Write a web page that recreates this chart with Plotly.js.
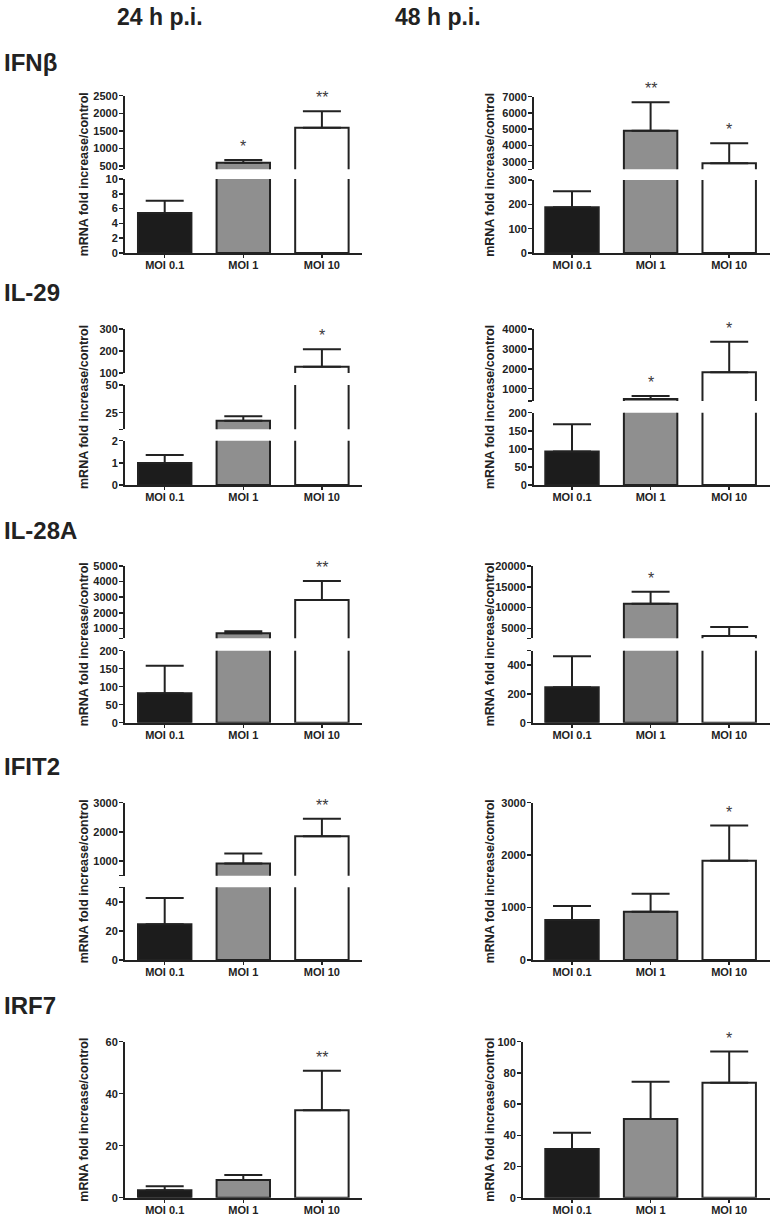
<!DOCTYPE html>
<html><head><meta charset="utf-8">
<script src="https://cdn.plot.ly/plotly-3.0.1.min.js"></script>
<style>html,body{margin:0;padding:0;background:#fff}#chart{width:773px;height:1217px}</style>
</head><body><div id="chart"></div>
<script>
// ---------------- DATA ----------------
const categories = ['MOI 0.1', 'MOI 1', 'MOI 10'];
const columnTitles = ['24 h p.i.', '48 h p.i.'];
const geneLabels = ['IFNβ', 'IL-29', 'IL-28A', 'IFIT2', 'IRF7'];
const yAxisTitle = 'mRNA fold increase/control';

// IFNβ
const ifnb24Mean = [5.4, 590, 1590];
const ifnb24Sem  = [1.65, 80, 466];
const ifnb24Sig  = ['', '*', '**'];
const ifnb24Breaks = [[406, 2500], [0, 10]];
const ifnb24Ticks  = [[500, 1000, 1500, 2000, 2500], [0, 2, 4, 6, 8, 10]];

const ifnb48Mean = [188, 4910, 2900];
const ifnb48Sem  = [66, 1750, 1230];
const ifnb48Sig  = ['', '**', '*'];
const ifnb48Breaks = [[2530, 7000], [0, 300]];
const ifnb48Ticks  = [[3000, 4000, 5000, 6000, 7000], [0, 100, 200, 300]];

// IL-29
const il29_24Mean = [0.99, 17.8, 128];
const il29_24Sem  = [0.36, 4, 80];
const il29_24Sig  = ['', '', '*'];
const il29_24Breaks = [[100, 300], [10, 50], [0, 2]];
const il29_24Ticks  = [[100, 200, 300], [25, 50], [0, 1, 2]];

const il29_48Mean = [93, 480, 1820];
const il29_48Sem  = [75, 150, 1540];
const il29_48Sig  = ['', '*', '*'];
const il29_48Breaks = [[380, 4000], [0, 200]];
const il29_48Ticks  = [[1000, 2000, 3000, 4000], [0, 50, 100, 150, 200]];

// IL-28A
const il28a24Mean = [82, 680, 2820];
const il28a24Sem  = [76, 140, 1220];
const il28a24Sig  = ['', '', '**'];
const il28a24Breaks = [[360, 5000], [0, 200]];
const il28a24Ticks  = [[1000, 2000, 3000, 4000, 5000], [0, 50, 100, 150, 200]];

const il28a48Mean = [247, 10900, 3150];
const il28a48Sem  = [215, 2880, 2160];
const il28a48Sig  = ['', '*', ''];
const il28a48Breaks = [[2600, 20000], [0, 500]];
const il28a48Ticks  = [[5000, 10000, 15000, 20000], [0, 200, 400]];

// IFIT2
const ifit2_24Mean = [24.6, 921, 1849];
const ifit2_24Sem  = [18, 340, 605];
const ifit2_24Sig  = ['', '', '**'];
const ifit2_24Breaks = [[500, 3000], [0, 50]];
const ifit2_24Ticks  = [[1000, 2000, 3000], [0, 20, 40]];

const ifit2_48Mean = [763, 922, 1895];
const ifit2_48Sem  = [267, 343, 668];
const ifit2_48Sig  = ['', '', '*'];
const ifit2_48Breaks = [[0, 3000]];
const ifit2_48Ticks  = [[0, 1000, 2000, 3000]];

// IRF7
const irf7_24Mean = [2.85, 6.8, 33.6];
const irf7_24Sem  = [1.55, 1.9, 15.2];
const irf7_24Sig  = ['', '', '**'];
const irf7_24Breaks = [[0, 60]];
const irf7_24Ticks  = [[0, 20, 40, 60]];

const irf7_48Mean = [31.2, 50.4, 73.7];
const irf7_48Sem  = [10.5, 24, 20];
const irf7_48Sig  = ['', '', '*'];
const irf7_48Breaks = [[0, 100]];
const irf7_48Ticks  = [[0, 20, 40, 60, 80, 100]];

// ---------------- LAYOUT / STYLE ----------------
const W = 773, H = 1217;
const firstCatPx = [164.7, 572];
const catStep = 78.6;
const barColors = ['#1c1c1c', '#8f8f8f', '#ffffff'];
const ink = '#222222';
const fam = '"Liberation Sans", Arial, Helvetica, sans-serif';
const famNarrow = '"Liberation Sans Narrow", "Arial Narrow", "Liberation Sans", Arial, sans-serif';

const panels = [
  {row:0, col:0, mean:ifnb24Mean, sem:ifnb24Sem, sig:ifnb24Sig, breaks:ifnb24Breaks, ticks:ifnb24Ticks, xl:125, xr:362, seg:[[95.7,169.3],[179,253]]},
  {row:0, col:1, mean:ifnb48Mean, sem:ifnb48Sem, sig:ifnb48Sig, breaks:ifnb48Breaks, ticks:ifnb48Ticks, xl:534, xr:770, seg:[[96.7,169.3],[180,253]]},
  {row:1, col:0, mean:il29_24Mean, sem:il29_24Sem, sig:il29_24Sig, breaks:il29_24Breaks, ticks:il29_24Ticks, xl:125, xr:362, seg:[[329,373],[385,429.3],[440.7,485]]},
  {row:1, col:1, mean:il29_48Mean, sem:il29_48Sem, sig:il29_48Sig, breaks:il29_48Breaks, ticks:il29_48Ticks, xl:534, xr:770, seg:[[329,401],[412.7,485]]},
  {row:2, col:0, mean:il28a24Mean, sem:il28a24Sem, sig:il28a24Sig, breaks:il28a24Breaks, ticks:il28a24Ticks, xl:125, xr:362, seg:[[566,638.3],[650.7,722.7]]},
  {row:2, col:1, mean:il28a48Mean, sem:il28a48Sem, sig:il28a48Sig, breaks:il28a48Breaks, ticks:il28a48Ticks, xl:533, xr:770, seg:[[566,638.3],[650.7,722.7]]},
  {row:3, col:0, mean:ifit2_24Mean, sem:ifit2_24Sem, sig:ifit2_24Sig, breaks:ifit2_24Breaks, ticks:ifit2_24Ticks, xl:125, xr:362, seg:[[802.7,875.7],[887.3,960]]},
  {row:3, col:1, mean:ifit2_48Mean, sem:ifit2_48Sem, sig:ifit2_48Sig, breaks:ifit2_48Breaks, ticks:ifit2_48Ticks, xl:533, xr:770, seg:[[802.7,960]]},
  {row:4, col:0, mean:irf7_24Mean, sem:irf7_24Sem, sig:irf7_24Sig, breaks:irf7_24Breaks, ticks:irf7_24Ticks, xl:125, xr:362, seg:[[1041.7,1197.7]]},
  {row:4, col:1, mean:irf7_48Mean, sem:irf7_48Sem, sig:irf7_48Sig, breaks:irf7_48Breaks, ticks:irf7_48Ticks, xl:523, xr:770, seg:[[1041.7,1197.7]]}
];

const rowLabelY = [62, 292, 530, 767, 1005];
const colTitleX = [160, 438];
const yTitleX = [84, 490];

const data = [];
const layout = {
  width: W, height: H,
  margin: {l: 0, r: 0, t: 0, b: 0},
  paper_bgcolor: '#ffffff', plot_bgcolor: '#ffffff',
  showlegend: false,
  font: {family: fam, color: ink},
  annotations: []
};

const tickFont = {family: fam, size: 11, color: ink, weight: 'bold'};
const axisCommon = {
  showline: true, linecolor: ink, linewidth: 2,
  ticks: 'outside', ticklen: 4, tickwidth: 1.5, tickcolor: ink,
  showgrid: false, zeroline: false, fixedrange: true,
  tickfont: tickFont
};
const id = (n) => (n === 1 ? '' : String(n));

let yCount = 0;
panels.forEach((p, pi) => {
  const xn = pi + 1;
  const xRef = 'x' + id(xn);
  const yRefs = [];
  p.breaks.forEach((rng, si) => {
    yCount++;
    const yn = yCount;
    const yRef = 'y' + id(yn);
    yRefs.push(yRef);
    const [top, bot] = p.seg[si];
    const labeled = p.ticks[si];
    const vals = labeled.slice();
    const txt = labeled.map(String);
    rng.forEach(v => { if (!labeled.includes(v)) { vals.push(v); txt.push(''); } });
    layout['yaxis' + id(yn)] = Object.assign({}, axisCommon, {
      domain: [1 - bot / H, 1 - top / H], anchor: xRef,
      range: rng, tickmode: 'array', tickvals: vals, ticktext: txt,
      ticklabelstandoff: -1
    });
    const inSeg = p.mean.map(m => m >= rng[0] && m <= rng[1]);
    data.push({
      type: 'bar', x: categories, y: p.mean, xaxis: xRef, yaxis: yRef,
      width: 0.68,
      marker: {color: barColors, line: {color: ink, width: 2}},
      error_y: {
        type: 'data', symmetric: false, visible: true,
        array: p.sem.map((e, i) => inSeg[i] ? e : NaN),
        arrayminus: p.mean.map((m, i) => inSeg[i] ? 0 : NaN),
        color: ink, thickness: 2, width: 19
      },
      hoverinfo: 'skip'
    });
    p.sig.forEach((s, i) => {
      if (s && inSeg[i]) {
        layout.annotations.push({
          xref: xRef, yref: yRef, x: categories[i], y: p.mean[i] + p.sem[i],
          text: s, showarrow: false, yanchor: 'bottom', yshift: 3,
          font: {family: fam, size: 16, color: '#3a3a3a'}
        });
      }
    });
  });
  const c0 = firstCatPx[p.col];
  layout['xaxis' + id(xn)] = Object.assign({}, axisCommon, {
    domain: [p.xl / W, p.xr / W], anchor: yRefs[yRefs.length - 1],
    type: 'category', range: [(p.xl - c0) / catStep, (p.xr - c0) / catStep],
    ticklen: 3, ticklabelstandoff: -2
  });
  const yTop = p.seg[0][0], yBot = p.seg[p.seg.length - 1][1];
  layout.annotations.push({
    xref: 'paper', yref: 'paper', x: yTitleX[p.col] / W, y: 1 - ((yTop + yBot) / 2) / H,
    text: yAxisTitle, textangle: -90, showarrow: false,
    xanchor: 'center', yanchor: 'middle',
    font: {family: fam, size: 12.5, color: ink, weight: 'bold'}
  });
});

geneLabels.forEach((g, r) => {
  layout.annotations.push({
    xref: 'paper', yref: 'paper', x: 2 / W, y: 1 - rowLabelY[r] / H,
    xanchor: 'left', yanchor: 'middle', text: g, showarrow: false,
    font: {family: fam, size: 24, color: ink, weight: 'bold'}
  });
});
columnTitles.forEach((t, c) => {
  layout.annotations.push({
    xref: 'paper', yref: 'paper', x: colTitleX[c] / W, y: 1 - 17 / H,
    xanchor: 'center', yanchor: 'middle', text: t, showarrow: false,
    font: {family: famNarrow, size: 23, color: ink, weight: 'bold'}
  });
});

Plotly.newPlot('chart', data, layout, {staticPlot: true, displayModeBar: false});
</script>
</body></html>
